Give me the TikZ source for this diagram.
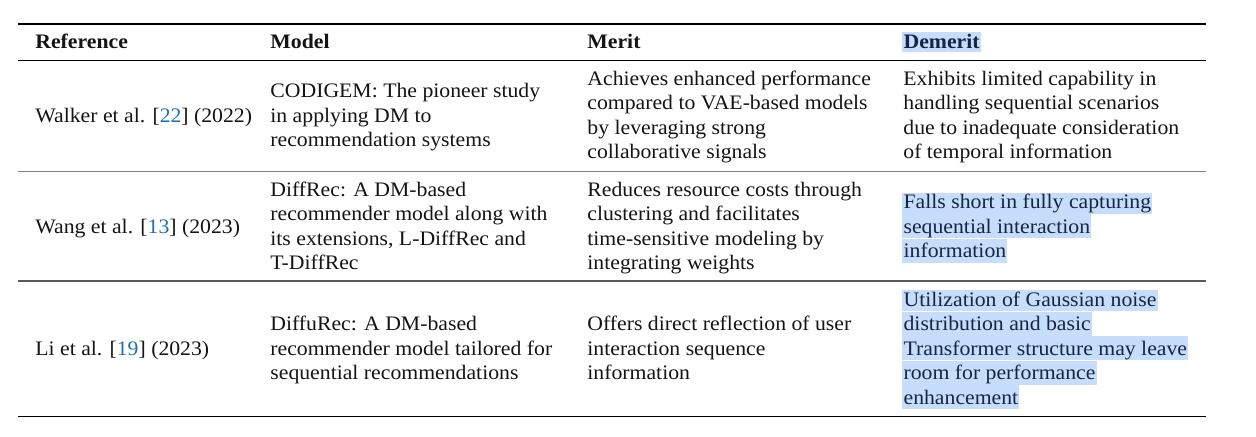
\documentclass[tikz,border=0pt]{standalone}
\usepackage{fontspec}
\setmainfont{Liberation Serif}[FakeStretch=1.055]
\definecolor{citeblue}{RGB}{28,113,180}
\definecolor{hlblue}{RGB}{198,221,251}
\definecolor{hltext}{RGB}{22,36,72}
\definecolor{txt}{RGB}{20,20,20}
\newcommand{\cit}[1]{[\textcolor{citeblue}{#1}]}
\begin{document}
\begin{tikzpicture}[x=0.5pt,y=-0.5pt,
  cell/.style={anchor=base west, inner sep=0pt, text=txt, font=\fontsize{10.3}{12}\selectfont},
  head/.style={cell, font=\fontsize{10.3}{12}\selectfont\bfseries},
  hl/.style={cell, fill=hlblue, text=hltext, inner ysep=0pt, inner xsep=0.6pt, text height=9.4pt, text depth=2.7pt},
  hlfirst/.style={hl, text height=8pt},
  rulebold/.style={line width=0.85pt, black},
  rulethin/.style={line width=0.6pt, black},
  rulegray/.style={line width=0.8pt, black!50},
  ruledark/.style={line width=0.8pt, black!65}]
\useasboundingbox (0,0) rectangle (1256,436);
% rule end points
\coordinate (L0) at (18,24);  \coordinate (R0) at (1206,24);
\coordinate (L1) at (18,60.5);  \coordinate (R1) at (1206,60.5);
\coordinate (L2) at (18,171.5); \coordinate (R2) at (1206,171.5);
\coordinate (L3) at (18,281); \coordinate (R3) at (1206,281);
\coordinate (L4) at (18,416.5); \coordinate (R4) at (1206,416.5);
\draw[rulebold] (L0) -- (R0);
\draw[rulethin] (L1) -- (R1);
\draw[rulegray] (L2) -- (R2);
\draw[ruledark] (L3) -- (R3);
\draw[rulebold] (L4) -- (R4);
% header
\node[head] (h1) at (35,48) {Reference};
\node[head] (h2) at (270,48) {Model};
\node[head] (h3) at (587,48) {Merit};
\node[hlfirst, font=\fontsize{10.3}{12}\selectfont\bfseries, text depth=2.2pt] (h4) at (902,48) {Demerit};
% row 1
\node[cell] (a1) at (35,122) {Walker et al. \cit{22} (2022)};
\node[cell] (a2a) at (270,97.5) {CODIGEM: The pioneer study};
\node[cell] (a2b) at (270,122) {in applying DM to};
\node[cell] (a2c) at (270,146.5) {recommendation systems};
\node[cell] (a3a) at (587,85.25) {Achieves enhanced performance};
\node[cell] (a3b) at (587,109.75) {compared to VAE-based models};
\node[cell] (a3c) at (587,134.25) {by leveraging strong};
\node[cell] (a3d) at (587,158.75) {collaborative signals};
\node[cell] (a4a) at (903,85.25) {Exhibits limited capability in};
\node[cell] (a4b) at (903,109.75) {handling sequential scenarios};
\node[cell] (a4c) at (903,134.25) {due to inadequate consideration};
\node[cell] (a4d) at (903,158.75) {of temporal information};
% row 2
\node[cell] (b1) at (35,233) {Wang et al. \cit{13} (2023)};
\node[cell] (b2a) at (270,196.25) {DiffRec: A DM-based};
\node[cell] (b2b) at (270,220.75) {recommender model along with};
\node[cell] (b2c) at (270,245.25) {its extensions, L-DiffRec and};
\node[cell] (b2d) at (270,269.75) {T-DiffRec};
\node[cell] (b3a) at (587,196.25) {Reduces resource costs through};
\node[cell] (b3b) at (587,220.75) {clustering and facilitates};
\node[cell] (b3c) at (587,245.25) {time-sensitive modeling by};
\node[cell] (b3d) at (587,269.75) {integrating weights};
\node[hlfirst] (b4a) at (902,208.5) {Falls short in fully capturing};
\node[hl] (b4b) at (902,233) {sequential interaction};
\node[hl] (b4c) at (902,257.5) {information};
% row 3
\node[cell] (c1) at (35,355) {Li et al. \cit{19} (2023)};
\node[cell] (c2a) at (270,330.5) {DiffuRec: A DM-based};
\node[cell] (c2b) at (270,355) {recommender model tailored for};
\node[cell] (c2c) at (270,379.5) {sequential recommendations};
\node[cell] (c3a) at (587,330.5) {Offers direct reflection of user};
\node[cell] (c3b) at (587,355) {interaction sequence};
\node[cell] (c3c) at (587,379.5) {information};
\node[hlfirst] (c4a) at (902,306) {Utilization of Gaussian noise};
\node[hl] (c4b) at (902,330.5) {distribution and basic};
\node[hl] (c4c) at (902,355) {Transformer structure may leave};
\node[hl] (c4d) at (902,379.5) {room for performance};
\node[hl] (c4e) at (902,404) {enhancement};
\end{tikzpicture}
\end{document}
